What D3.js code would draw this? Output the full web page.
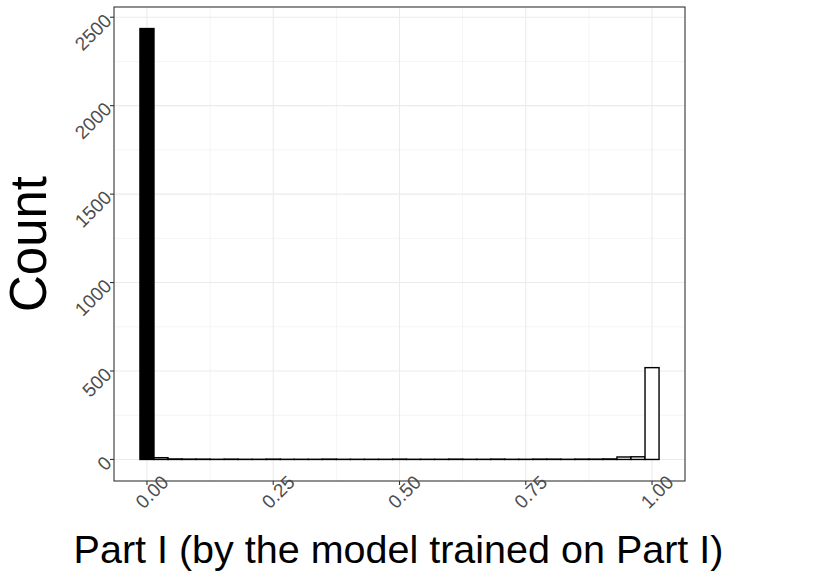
<!DOCTYPE html>
<html>
<head>
<meta charset="utf-8">
<script src="https://cdn.jsdelivr.net/npm/d3@7"></script>
<style>
  body { margin: 0; background: #fff; }
  text { font-family: "Liberation Sans", Arial, sans-serif; }
</style>
</head>
<body>
<svg id="chart"></svg>
<script>
// histogram counts, 37 bins centred on 0, 1/36, ..., 1
binCenters = d3.range(37).map((i) => i / 36);
counts = [2436, 10, 3, 2, 2, 1, 2, 1, 1, 2, 1, 1, 1, 2, 1, 1, 1, 1, 2, 1,
          1, 1, 2, 1, 1, 2, 1, 1, 2, 2, 1, 2, 2, 3, 14, 15, 519];
binFills = counts.map((c, i) => (i == 0 ? "black" : "white"));

xTicks = [0, 0.25, 0.5, 0.75, 1];
xTickLabels = ["0.00", "0.25", "0.50", "0.75", "1.00"];
yTicks = [0, 500, 1000, 1500, 2000, 2500];

function drawChart() {
  let width = 836;
  let height = 579;
  let svg = d3.select("#chart").attr("width", width).attr("height", height);

  let panelLeft = 114;
  let panelRight = 685;
  let panelTop = 7;
  let panelBottom = 481;

  let binWidth = 1 / 36;
  let xMin = -binWidth / 2;
  let xMax = 1 + binWidth / 2;
  let xPad = (xMax - xMin) * 0.05;
  let xScale = d3
    .scaleLinear()
    .domain([xMin - xPad, xMax + xPad])
    .range([panelLeft, panelRight]);

  let yMax = d3.max(counts);
  let yScale = d3
    .scaleLinear()
    .domain([-yMax * 0.05, yMax * 1.05])
    .range([panelBottom, panelTop]);

  // minor grid
  let xMinor = [0.125, 0.375, 0.625, 0.875];
  let yMinor = [250, 750, 1250, 1750, 2250];
  svg.append("g").selectAll("line").data(xMinor).join("line")
    .attr("x1", (d) => xScale(d)).attr("x2", (d) => xScale(d))
    .attr("y1", panelTop).attr("y2", panelBottom)
    .attr("stroke", "#ebebeb").attr("stroke-width", 0.55);
  svg.append("g").selectAll("line").data(yMinor).join("line")
    .attr("y1", (d) => yScale(d)).attr("y2", (d) => yScale(d))
    .attr("x1", panelLeft).attr("x2", panelRight)
    .attr("stroke", "#ebebeb").attr("stroke-width", 0.55);

  // major grid
  svg.append("g").selectAll("line").data(xTicks).join("line")
    .attr("x1", (d) => xScale(d)).attr("x2", (d) => xScale(d))
    .attr("y1", panelTop).attr("y2", panelBottom)
    .attr("stroke", "#ebebeb").attr("stroke-width", 1.1);
  svg.append("g").selectAll("line").data(yTicks).join("line")
    .attr("y1", (d) => yScale(d)).attr("y2", (d) => yScale(d))
    .attr("x1", panelLeft).attr("x2", panelRight)
    .attr("stroke", "#ebebeb").attr("stroke-width", 1.1);

  // bars
  svg.append("g").selectAll("rect").data(counts).join("rect")
    .attr("x", (d, i) => xScale(binCenters[i] - binWidth / 2))
    .attr("width", (d, i) => xScale(binCenters[i] + binWidth / 2) - xScale(binCenters[i] - binWidth / 2))
    .attr("y", (d) => yScale(d))
    .attr("height", (d) => yScale(0) - yScale(d))
    .attr("fill", (d, i) => binFills[i])
    .attr("stroke", "black")
    .attr("stroke-width", 1.4);

  // panel border
  svg.append("rect")
    .attr("x", panelLeft).attr("y", panelTop)
    .attr("width", panelRight - panelLeft).attr("height", panelBottom - panelTop)
    .attr("fill", "none").attr("stroke", "#333333").attr("stroke-width", 1.1);

  // x ticks
  let xg = svg.append("g");
  xg.selectAll("line").data(xTicks).join("line")
    .attr("x1", (d) => xScale(d)).attr("x2", (d) => xScale(d))
    .attr("y1", panelBottom).attr("y2", panelBottom + 4)
    .attr("stroke", "#333333").attr("stroke-width", 1.1);
  xg.selectAll("text").data(xTicks).join("text")
    .attr("transform", (d) => "translate(" + xScale(d) + "," + (panelBottom + 6) + ") rotate(-45)")
    .attr("text-anchor", "middle")
    .attr("dy", "0.72em")
    .attr("font-size", 19)
    .attr("fill", "#4d4d4d")
    .text((d, i) => xTickLabels[i]);

  // y ticks
  let yg = svg.append("g");
  yg.selectAll("line").data(yTicks).join("line")
    .attr("y1", (d) => yScale(d)).attr("y2", (d) => yScale(d))
    .attr("x1", panelLeft - 4).attr("x2", panelLeft)
    .attr("stroke", "#333333").attr("stroke-width", 1.1);
  yg.selectAll("text").data(yTicks).join("text")
    .attr("transform", (d) => "translate(" + (panelLeft - 6) + "," + yScale(d) + ") rotate(-45)")
    .attr("text-anchor", "end")
    .attr("dy", "0.35em")
    .attr("font-size", 19)
    .attr("fill", "#4d4d4d")
    .text((d) => d);

  // axis titles
  svg.append("text")
    .attr("x", (panelLeft + panelRight) / 2 - 1)
    .attr("y", 563)
    .attr("text-anchor", "middle")
    .attr("font-size", 39.5)
    .attr("fill", "black")
    .text("Part I (by the model trained on Part I)");

  svg.append("text")
    .attr("transform", "translate(46," + (panelTop + panelBottom) / 2 + ") rotate(-90)")
    .attr("text-anchor", "middle")
    .attr("font-size", 51)
    .attr("fill", "black")
    .text("Count");
}

drawChart();
</script>
</body>
</html>
